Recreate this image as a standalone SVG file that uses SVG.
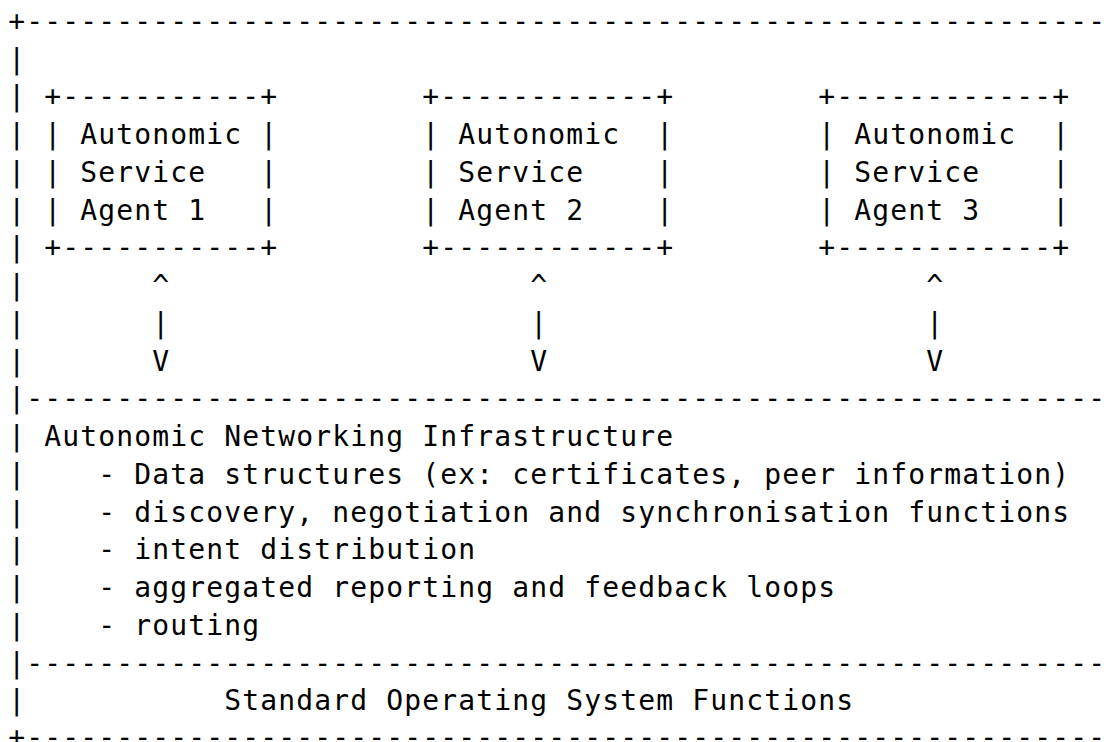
<svg xmlns="http://www.w3.org/2000/svg" width="1111" height="742" viewBox="0 0 1111 742">
  <style>
    /* ASCII-art figure: one monospace grid, 18px columns, 37.74px rows */
    text { font-family: "DejaVu Sans Mono", monospace; font-size: 28px; letter-spacing: 1.14px; fill: #000; white-space: pre; }
  </style>
  <rect x="0" y="0" width="1111" height="742" fill="#fff"/>

  <!-- outer frame with the two horizontal dividers -->
  <g id="frame" xml:space="preserve">
    <text x="8.3" y="31">+------------------------------------------------------------</text>
    <text x="8.3" y="68.74">|</text>
    <text x="8.3" y="106.48">|</text>
    <text x="8.3" y="144.22">|</text>
    <text x="8.3" y="181.96">|</text>
    <text x="8.3" y="219.7">|</text>
    <text x="8.3" y="257.44">|</text>
    <text x="8.3" y="295.18">|</text>
    <text x="8.3" y="332.92">|</text>
    <text x="8.3" y="370.66">|</text>
    <text x="8.3" y="408.4">|------------------------------------------------------------</text>
    <text x="8.3" y="446.14">|</text>
    <text x="8.3" y="483.88">|</text>
    <text x="8.3" y="521.62">|</text>
    <text x="8.3" y="559.36">|</text>
    <text x="8.3" y="597.1">|</text>
    <text x="8.3" y="634.84">|</text>
    <text x="8.3" y="672.58">|------------------------------------------------------------</text>
    <text x="8.3" y="710.32">|</text>
    <text x="8.3" y="747">+------------------------------------------------------------</text>
  </g>

  <!-- Autonomic Service Agent 1 -->
  <g id="asa1" xml:space="preserve">
    <text x="44.3" y="106.48">+-----------+</text>
    <text x="44.3" y="144.22">| Autonomic |</text>
    <text x="44.3" y="181.96">| Service   |</text>
    <text x="44.3" y="219.7">| Agent 1   |</text>
    <text x="44.3" y="257.44">+-----------+</text>
  </g>

  <!-- Autonomic Service Agent 2 -->
  <g id="asa2" xml:space="preserve">
    <text x="422.3" y="106.48">+------------+</text>
    <text x="422.3" y="144.22">| Autonomic  |</text>
    <text x="422.3" y="181.96">| Service    |</text>
    <text x="422.3" y="219.7">| Agent 2    |</text>
    <text x="422.3" y="257.44">+------------+</text>
  </g>

  <!-- Autonomic Service Agent 3 -->
  <g id="asa3" xml:space="preserve">
    <text x="818.3" y="106.48">+------------+</text>
    <text x="818.3" y="144.22">| Autonomic  |</text>
    <text x="818.3" y="181.96">| Service    |</text>
    <text x="818.3" y="219.7">| Agent 3    |</text>
    <text x="818.3" y="257.44">+------------+</text>
  </g>

  <!-- two-way links between each agent and the infrastructure -->
  <g id="connectors">
    <text x="152.3" y="295.18">^</text>
    <text x="152.3" y="332.92">|</text>
    <text x="152.3" y="370.66">V</text>
    <text x="530.3" y="295.18">^</text>
    <text x="530.3" y="332.92">|</text>
    <text x="530.3" y="370.66">V</text>
    <text x="926.3" y="295.18">^</text>
    <text x="926.3" y="332.92">|</text>
    <text x="926.3" y="370.66">V</text>
  </g>

  <!-- Autonomic Networking Infrastructure -->
  <g id="ani" xml:space="preserve">
    <text x="44.3" y="446.14">Autonomic Networking Infrastructure</text>
    <text x="98.3" y="483.88">- Data structures (ex: certificates, peer information)</text>
    <text x="98.3" y="521.62">- discovery, negotiation and synchronisation functions</text>
    <text x="98.3" y="559.36">- intent distribution</text>
    <text x="98.3" y="597.1">- aggregated reporting and feedback loops</text>
    <text x="98.3" y="634.84">- routing</text>
  </g>

  <!-- Standard Operating System Functions -->
  <g id="os">
    <text x="224.3" y="710.32">Standard Operating System Functions</text>
  </g>
</svg>
